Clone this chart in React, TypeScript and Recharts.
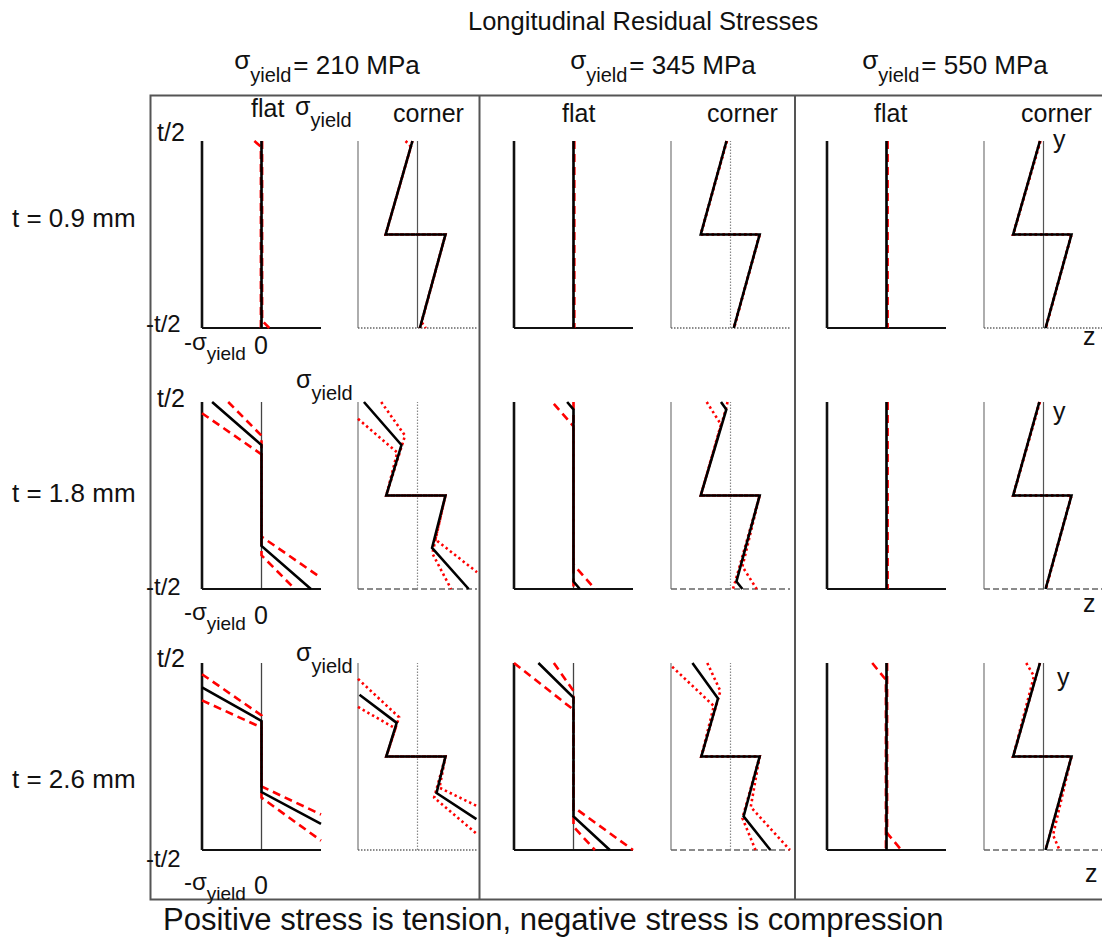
import React from "react";
import { ScatterChart, Scatter, XAxis, YAxis, ReferenceLine } from "recharts";

// Stress in units of sigma_yield (x), through-thickness position in units of t (y).
type Pt = [number, number];

// ---- t = 0.9 mm ----
const t09_flat210_mean: Pt[] = [[0, 0.5], [0, -0.5]];
const t09_flat210_hi: Pt[] = [[-0.12, 0.5], [-0.01, 0.47], [-0.01, -0.5]];
const t09_flat210_lo: Pt[] = [[0.01, 0.5], [0.01, -0.46], [0.13, -0.5]];
const t09_corner210_mean: Pt[] = [[-0.085, 0.5], [-0.535, 0], [0.47, 0], [0.04, -0.5]];
const t09_corner210_hi: Pt[] = [[-0.2, 0.5], [-0.11, 0.47], [-0.535, 0], [0.47, 0], [0.04, -0.5]];
const t09_corner210_lo: Pt[] = [[-0.085, 0.5], [-0.535, 0], [0.47, 0], [0.07, -0.47], [0.14, -0.5]];

const t09_flat345_mean: Pt[] = [[0, 0.5], [0, -0.5]];
const t09_flat345_hi: Pt[] = [[0.01, 0.5], [0.01, -0.5]];
const t09_flat345_lo: Pt[] = [[0.01, 0.5], [0.01, -0.5]];
const t09_corner345_mean: Pt[] = [[-0.067, 0.5], [-0.5, 0], [0.49, 0], [0.055, -0.5]];
const t09_corner345_hi: Pt[] = [[-0.06, 0.5], [-0.5, 0], [0.49, 0], [0.055, -0.5]];
const t09_corner345_lo: Pt[] = [[-0.067, 0.5], [-0.5, 0], [0.49, 0], [0.06, -0.5]];

const t09_flat550_mean: Pt[] = [[0, 0.5], [0, -0.5]];
const t09_flat550_hi: Pt[] = [[0.015, 0.5], [0.015, -0.5]];
const t09_flat550_lo: Pt[] = [[0.015, 0.5], [0.015, -0.5]];
const t09_corner550_mean: Pt[] = [[-0.06, 0.5], [-0.51, 0], [0.47, 0], [0.035, -0.5]];
const t09_corner550_hi: Pt[] = [[-0.05, 0.5], [-0.51, 0], [0.47, 0], [0.035, -0.5]];
const t09_corner550_lo: Pt[] = [[-0.06, 0.5], [-0.51, 0], [0.47, 0], [0.04, -0.5]];

// ---- t = 1.8 mm ----
const t18_flat210_mean: Pt[] = [[-0.83, 0.5], [0, 0.27], [0, -0.27], [0.83, -0.5]];
const t18_flat210_hi: Pt[] = [[-0.56, 0.5], [0, 0.32], [0, -0.22], [1, -0.44]];
const t18_flat210_lo: Pt[] = [[-1, 0.44], [0, 0.22], [0, -0.32], [0.56, -0.5]];
const t18_corner210_mean: Pt[] = [[-0.9, 0.5], [-0.27, 0.27], [-0.525, 0], [0.47, 0], [0.245, -0.28], [0.86, -0.5]];
const t18_corner210_hi: Pt[] = [[-0.61, 0.5], [-0.21, 0.32], [-0.525, 0], [0.47, 0], [0.3, -0.235], [1, -0.41]];
const t18_corner210_lo: Pt[] = [[-1, 0.41], [-0.34, 0.23], [-0.525, 0], [0.47, 0], [0.25, -0.31], [0.565, -0.5]];

const t18_flat345_mean: Pt[] = [[-0.107, 0.5], [0, 0.46], [0, -0.46], [0.107, -0.5]];
const t18_flat345_hi: Pt[] = [[-0.33, 0.49], [0, 0.37], [0, -0.5]];
const t18_flat345_lo: Pt[] = [[0, 0.5], [0, -0.37], [0.36, -0.5]];
const t18_corner345_mean: Pt[] = [[-0.16, 0.5], [-0.07, 0.46], [-0.5, 0], [0.49, 0], [0.1, -0.46], [0.2, -0.5]];
const t18_corner345_hi: Pt[] = [[-0.4, 0.5], [-0.16, 0.38], [-0.5, 0], [0.49, 0], [0.08, -0.46], [0.04, -0.5]];
const t18_corner345_lo: Pt[] = [[-0.05, 0.5], [-0.08, 0.46], [-0.5, 0], [0.49, 0], [0.2, -0.38], [0.44, -0.5]];

const t18_flat550_mean: Pt[] = [[0, 0.5], [0, -0.5]];
const t18_flat550_hi: Pt[] = [[0.015, 0.5], [0.015, -0.5]];
const t18_flat550_lo: Pt[] = [[0.015, 0.5], [0.015, -0.5]];
const t18_corner550_mean: Pt[] = [[-0.07, 0.5], [-0.51, 0], [0.47, 0], [0.035, -0.5]];
const t18_corner550_hi: Pt[] = [[-0.06, 0.5], [-0.51, 0], [0.47, 0], [0.035, -0.5]];
const t18_corner550_lo: Pt[] = [[-0.07, 0.5], [-0.51, 0], [0.47, 0], [0.04, -0.5]];

// ---- t = 2.6 mm ----
const t26_flat210_mean: Pt[] = [[-1, 0.37], [0, 0.19], [0, -0.19], [1, -0.36]];
const t26_flat210_hi: Pt[] = [[-1, 0.44], [0, 0.22], [0, -0.16], [1, -0.31]];
const t26_flat210_lo: Pt[] = [[-1, 0.3], [0, 0.155], [0, -0.22], [1, -0.45]];
const t26_corner210_mean: Pt[] = [[-0.975, 0.33], [-0.35, 0.18], [-0.525, 0], [0.47, 0], [0.32, -0.195], [0.99, -0.335]];
const t26_corner210_hi: Pt[] = [[-1, 0.415], [-0.31, 0.21], [-0.525, 0], [0.47, 0], [0.37, -0.167], [1, -0.265]];
const t26_corner210_lo: Pt[] = [[-1, 0.265], [-0.37, 0.15], [-0.525, 0], [0.47, 0], [0.28, -0.22], [1, -0.415]];

const t26_flat345_mean: Pt[] = [[-0.59, 0.5], [0, 0.315], [0, -0.32], [0.61, -0.5]];
const t26_flat345_hi: Pt[] = [[-1, 0.5], [0, 0.25], [0, -0.375], [0.36, -0.5]];
const t26_flat345_lo: Pt[] = [[-0.33, 0.5], [0, 0.35], [0, -0.27], [1, -0.5]];
const t26_corner345_mean: Pt[] = [[-0.64, 0.5], [-0.21, 0.31], [-0.49, 0], [0.49, 0], [0.22, -0.32], [0.67, -0.5]];
const t26_corner345_hi: Pt[] = [[-0.98, 0.48], [-0.28, 0.27], [-0.49, 0], [0.49, 0], [0.34, -0.27], [1, -0.5]];
const t26_corner345_lo: Pt[] = [[-0.39, 0.5], [-0.17, 0.35], [-0.49, 0], [0.49, 0], [0.2, -0.33], [0.42, -0.5]];

const t26_flat550_mean: Pt[] = [[0, 0.5], [0, -0.5]];
const t26_flat550_hi: Pt[] = [[-0.24, 0.5], [-0.01, 0.41], [-0.01, -0.5]];
const t26_flat550_lo: Pt[] = [[0.01, 0.5], [0.01, -0.41], [0.25, -0.5]];
const t26_corner550_mean: Pt[] = [[-0.06, 0.5], [-0.51, 0], [0.47, 0], [0.035, -0.5]];
const t26_corner550_hi: Pt[] = [[-0.29, 0.5], [-0.16, 0.43], [-0.51, 0], [0.47, 0], [0.035, -0.5]];
const t26_corner550_lo: Pt[] = [[-0.06, 0.5], [-0.51, 0], [0.47, 0], [0.16, -0.42], [0.27, -0.5]];

// Labels
const thicknessLabels = ["t = 0.9 mm", "t = 1.8 mm", "t = 2.6 mm"];
const yieldLabels = ["210", "345", "550"];
const sectionLabels = ["flat", "corner"];

// ---- layout ----
const PW = 119;
const PH = 187;
const PAD = 6;
const FLAT_LEFT = [202, 514, 827];
const CORNER_LEFT = [358, 671, 984];
const ROW_TOP = [141, 402, 663];
const FONT = "'Liberation Sans', Arial, Helvetica, sans-serif";

const toPts = (a: Pt[]) => a.map(([x, y]) => ({ x, y }));
const NoDot = () => <g />;

type Series = { mean: Pt[]; hi: Pt[]; lo: Pt[] };
type PanelProps = {
  left: number;
  top: number;
  corner: boolean;
  series: Series;
  zeroDotted?: boolean;
  baseDashed?: boolean;
};

function Panel({ left, top, corner, series, zeroDotted, baseDashed }: PanelProps) {
  const band = {
    stroke: "#ff0000",
    strokeWidth: 2.6,
    strokeDasharray: corner ? "2.4 3" : "8 5",
    fill: "none",
  };
  return (
    <div style={{ position: "absolute", left: left - PAD, top: top - PAD }}>
      <ScatterChart
        width={PW + 2 * PAD}
        height={PH + 2 * PAD}
        margin={{ top: PAD, right: PAD, bottom: PAD, left: PAD }}
      >
        <XAxis type="number" dataKey="x" domain={[-1, 1]} hide />
        <YAxis type="number" dataKey="y" domain={[-0.5, 0.5]} hide />
        {corner ? (
          <>
            <ReferenceLine x={-1} stroke="#777" strokeWidth={1.2} />
            <ReferenceLine
              y={-0.5}
              stroke="#666"
              strokeWidth={1.4}
              strokeDasharray={baseDashed ? "6 3" : "1.5 1.5"}
            />
            <ReferenceLine
              x={0}
              stroke={zeroDotted ? "#888" : "#555"}
              strokeWidth={1.2}
              strokeDasharray={zeroDotted ? "1.5 1.5" : undefined}
            />
            <ReferenceLine segment={[{ x: -1.03, y: 0 }, { x: -0.97, y: 0 }]} stroke="#666" strokeWidth={1.2} />
          </>
        ) : (
          <>
            <ReferenceLine x={0} stroke="#444" strokeWidth={1.3} />
            <ReferenceLine x={-1} stroke="#111" strokeWidth={2.6} />
            <ReferenceLine y={-0.5} stroke="#111" strokeWidth={2.2} />
          </>
        )}
        <Scatter data={toPts(series.hi)} fill="#ff0000" line={band} shape={NoDot} isAnimationActive={false} />
        <Scatter data={toPts(series.lo)} fill="#ff0000" line={band} shape={NoDot} isAnimationActive={false} />
        <Scatter
          data={toPts(series.mean)}
          fill="#000"
          line={{ stroke: "#000", strokeWidth: 2.6, fill: "none", strokeLinejoin: "miter" }}
          shape={NoDot}
          isAnimationActive={false}
        />
      </ScatterChart>
    </div>
  );
}

const flatRows: Series[][] = [
  [
    { mean: t09_flat210_mean, hi: t09_flat210_hi, lo: t09_flat210_lo },
    { mean: t09_flat345_mean, hi: t09_flat345_hi, lo: t09_flat345_lo },
    { mean: t09_flat550_mean, hi: t09_flat550_hi, lo: t09_flat550_lo },
  ],
  [
    { mean: t18_flat210_mean, hi: t18_flat210_hi, lo: t18_flat210_lo },
    { mean: t18_flat345_mean, hi: t18_flat345_hi, lo: t18_flat345_lo },
    { mean: t18_flat550_mean, hi: t18_flat550_hi, lo: t18_flat550_lo },
  ],
  [
    { mean: t26_flat210_mean, hi: t26_flat210_hi, lo: t26_flat210_lo },
    { mean: t26_flat345_mean, hi: t26_flat345_hi, lo: t26_flat345_lo },
    { mean: t26_flat550_mean, hi: t26_flat550_hi, lo: t26_flat550_lo },
  ],
];

const cornerRows: Series[][] = [
  [
    { mean: t09_corner210_mean, hi: t09_corner210_hi, lo: t09_corner210_lo },
    { mean: t09_corner345_mean, hi: t09_corner345_hi, lo: t09_corner345_lo },
    { mean: t09_corner550_mean, hi: t09_corner550_hi, lo: t09_corner550_lo },
  ],
  [
    { mean: t18_corner210_mean, hi: t18_corner210_hi, lo: t18_corner210_lo },
    { mean: t18_corner345_mean, hi: t18_corner345_hi, lo: t18_corner345_lo },
    { mean: t18_corner550_mean, hi: t18_corner550_hi, lo: t18_corner550_lo },
  ],
  [
    { mean: t26_corner210_mean, hi: t26_corner210_hi, lo: t26_corner210_lo },
    { mean: t26_corner345_mean, hi: t26_corner345_hi, lo: t26_corner345_lo },
    { mean: t26_corner550_mean, hi: t26_corner550_hi, lo: t26_corner550_lo },
  ],
];

// Zero-line / base-line drawing style of the corner panels
const cornerZeroDotted = [
  [false, true, false],
  [true, true, false],
  [true, true, false],
];
const cornerBaseDashed = [
  [false, false, false],
  [true, true, true],
  [false, true, true],
];

function SigmaYield({ x, y, size, sub, prefix = "", rest = "", anchor = "start", rise = 5, drop = 7 }: any) {
  return (
    <text x={x} y={y} fontSize={size} textAnchor={anchor} fill="#111">
      <tspan dy={-rise}>{prefix}σ</tspan>
      <tspan fontSize={sub} dy={rise + drop}>yield</tspan>
      {rest ? <tspan dy={-drop} dx={2}>{rest}</tspan> : null}
    </text>
  );
}

export default function App() {
  const headerCx = [327, 663, 955];
  const flatLabelX = [251, 562, 874];
  const cornerLabelX = [393, 707, 1021];
  const rowLabelY = [227, 502, 788];
  const topLabelY = [141, 407, 667];
  const botLabelY = [332, 595, 867];
  const underY = [354, 624, 894];
  const yLabel = [[1053, 148], [1053, 420], [1057, 686]];
  const zLabel = [[1083, 345], [1083, 612], [1085, 882]];

  return (
    <div style={{ position: "absolute", left: 0, top: 0, width: 1102, height: 940, background: "#fff", overflow: "hidden" }}>
      <svg width={1102} height={940} style={{ position: "absolute", left: 0, top: 0 }} fontFamily={FONT}>
        {/* frame */}
        <rect x={150.5} y={95.5} width={1000} height={804} fill="none" stroke="#555" strokeWidth={2} />
        <line x1={479.5} y1={95} x2={479.5} y2={900} stroke="#555" strokeWidth={2} />
        <line x1={795} y1={95} x2={795} y2={900} stroke="#555" strokeWidth={2} />

        <text x={468} y={30} fontSize={25.5} fill="#111">Longitudinal Residual Stresses</text>

        {yieldLabels.map((v, i) => (
          <SigmaYield key={v} x={headerCx[i]} y={74} size={26} sub={20} anchor="middle" rest={`= ${v} MPa`} rise={5} drop={8} />
        ))}

        {thicknessLabels.map((s, i) => (
          <text key={s} x={12} y={rowLabelY[i]} fontSize={26} fill="#111">{s}</text>
        ))}

        {[0, 1, 2].map((i) => (
          <g key={"sec" + i}>
            <text x={flatLabelX[i]} y={i === 0 ? 117 : 122} fontSize={25} fill="#111">{sectionLabels[0]}</text>
            <text x={cornerLabelX[i]} y={122} fontSize={25} fill="#111">{sectionLabels[1]}</text>
          </g>
        ))}

        {/* stress / thickness scale markers on the 210 MPa column */}
        <SigmaYield x={295} y={120} size={25} sub={20} rise={5} drop={7} />
        <SigmaYield x={296} y={393} size={25} sub={20} rise={5} drop={7} />
        <SigmaYield x={296} y={666} size={25} sub={20} rise={5} drop={7} />
        {[0, 1, 2].map((i) => (
          <g key={"ax" + i}>
            <text x={157} y={topLabelY[i]} fontSize={25} fill="#111">t/2</text>
            <text x={146} y={botLabelY[i]} fontSize={24} fill="#111">-t/2</text>
            <SigmaYield x={184} y={underY[i]} size={24} sub={19} prefix="-" rise={4} drop={6} />
            <text x={254} y={underY[i]} fontSize={25} fill="#111">0</text>
            <text x={yLabel[i][0]} y={yLabel[i][1]} fontSize={25} fill="#111">y</text>
            <text x={zLabel[i][0]} y={zLabel[i][1]} fontSize={25} fill="#111">z</text>
          </g>
        ))}

        <text x={163} y={930} fontSize={31} fill="#111">Positive stress is tension, negative stress is compression</text>
      </svg>

      {flatRows.map((row, r) =>
        row.map((s, c) => (
          <Panel key={`f${r}${c}`} left={FLAT_LEFT[c]} top={ROW_TOP[r]} corner={false} series={s} />
        ))
      )}
      {cornerRows.map((row, r) =>
        row.map((s, c) => (
          <Panel
            key={`c${r}${c}`}
            left={CORNER_LEFT[c]}
            top={ROW_TOP[r]}
            corner={true}
            series={s}
            zeroDotted={cornerZeroDotted[r][c]}
            baseDashed={cornerBaseDashed[r][c]}
          />
        ))
      )}
    </div>
  );
}
